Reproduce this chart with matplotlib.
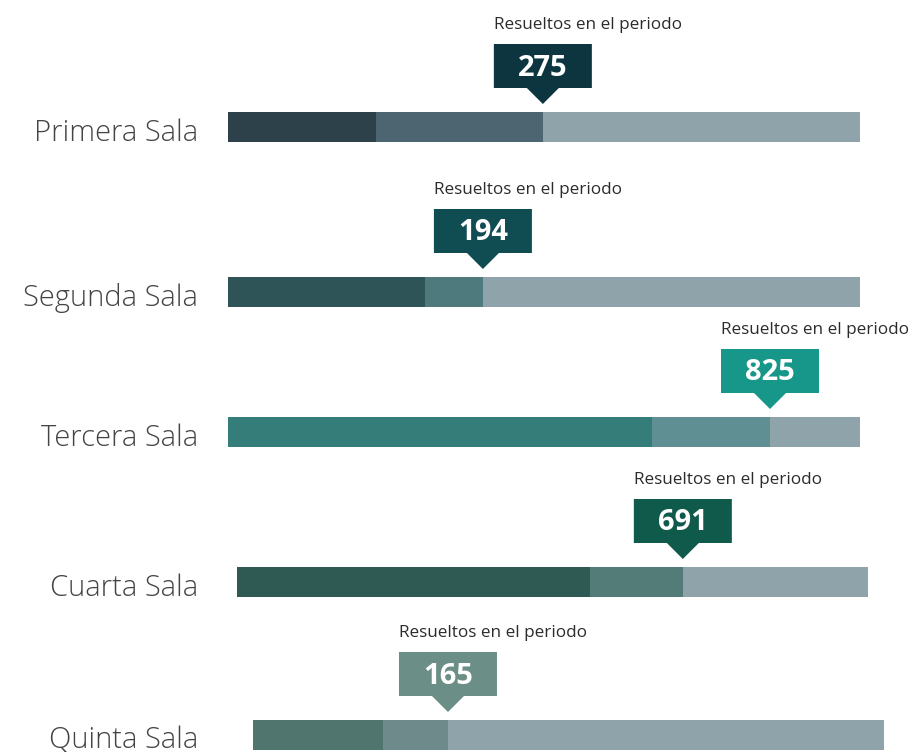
import matplotlib
matplotlib.use('Agg')
import matplotlib.pyplot as plt
from matplotlib.patches import Polygon

plt.rcParams['font.family'] = ['Open Sans', 'DejaVu Sans']

# data (bar = total, first two segments add up to "resueltos")
salas = ['Primera Sala', 'Segunda Sala', 'Tercera Sala', 'Cuarta Sala', 'Quinta Sala']
resueltos = [275, 194, 825, 691, 165]
seg1 = [129, 150, 645, 547, 110]
total = [552, 481, 962, 978, 534]

# colours per sala: dark segment, mid segment, callout box
c_dark = ['#2d414a', '#2e5458', '#357d79', '#2f5a54', '#50756f']
c_mid = ['#4d6570', '#4e7a7d', '#5f8f92', '#537c78', '#6f8a8a']
c_box = ['#0d3540', '#0f4d52', '#16978a', '#0f5a4b', '#6b8f86']
c_rest = '#8fa3ab'

# layout in pixels
W, H = 920, 752
bar_left = [228, 228, 228, 237, 253]
bar_right = [860, 860, 860, 868, 884]
bar_top = [112, 277, 417, 567, 720]
bar_h = 30

fig = plt.figure(figsize=(W / 100, H / 100), dpi=100)

for i in range(len(salas)):
    wpx = bar_right[i] - bar_left[i]
    ax = fig.add_axes([bar_left[i] / W, 1 - (bar_top[i] + bar_h) / H, wpx / W, 140 / H])
    ax.set_xlim(0, total[i])
    ax.set_ylim(0, 140)
    ax.axis('off')
    upp = total[i] / wpx  # data units per pixel

    s2 = resueltos[i] - seg1[i]
    rest = total[i] - resueltos[i]
    ax.barh(15, seg1[i], height=bar_h, left=0, color=c_dark[i], linewidth=0)
    ax.barh(15, s2, height=bar_h, left=seg1[i], color=c_mid[i], linewidth=0)
    ax.barh(15, rest, height=bar_h, left=resueltos[i], color=c_rest, linewidth=0)

    # callout marker
    cx = resueltos[i]
    bw = 49 * upp
    tw = 16 * upp
    pts = [(cx - bw, 98), (cx + bw, 98), (cx + bw, 54), (cx + tw, 54),
           (cx, 38), (cx - tw, 54), (cx - bw, 54)]
    ax.add_patch(Polygon(pts, closed=True, facecolor=c_box[i], edgecolor='none', clip_on=False))
    ax.text(cx, 74, str(resueltos[i]), color='white', fontsize=21, fontweight='bold',
            ha='center', va='center', clip_on=False)
    ax.text(cx - bw, 117, 'Resueltos en el periodo', color='#2b2b2b', fontsize=12.3,
            ha='left', va='center', clip_on=False)

    # sala label
    fig.text(198 / W, 1 - (bar_top[i] + 21) / H, salas[i], color='#444444', fontsize=21,
             fontweight='light', ha='right', va='center')

fig.savefig('out.png', dpi=100, facecolor='white')
